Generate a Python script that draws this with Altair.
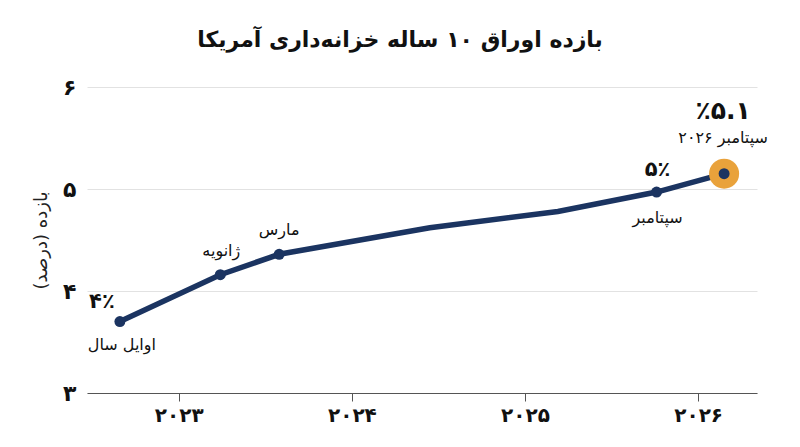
import altair as alt
import pandas as pd

# data
years = [2022.66, 2023.24, 2023.58, 2024.45, 2025.19, 2025.76, 2026.15]
yields = [3.70, 4.16, 4.36, 4.62, 4.78, 4.97, 5.15]
marker_idx = [0, 1, 2, 5]
final_idx = 6

x_ticks = [2023, 2024, 2025, 2026]
x_tick_labels = ["۲۰۲۳", "۲۰۲۴", "۲۰۲۵", "۲۰۲۶"]
y_ticks = [3, 4, 5, 6]
y_tick_labels = ["۳", "۴", "۵", "۶"]

title_text = "بازده اوراق ۱۰ ساله خزانه‌داری آمریکا"
y_title = "بازده (درصد)"

FONT = "DejaVu Sans"
NAVY = "#1b3461"
ORANGE = "#e9a23b"

df = pd.DataFrame({"x": years, "y": yields})

x_expr = "[" + ",".join("'%s'" % s for s in x_tick_labels) + "][datum.value-%d]" % x_ticks[0]
y_expr = "[" + ",".join("'%s'" % s for s in y_tick_labels) + "][datum.value-%d]" % y_ticks[0]

xs = alt.X("x:Q", scale=alt.Scale(domain=[2022.47, 2026.34], nice=False, zero=False),
           axis=alt.Axis(values=x_ticks, labelExpr=x_expr, grid=False, title=None,
                         domainColor="#555555", tickColor="#555555", tickSize=8,
                         labelFont=FONT, labelFontSize=20, labelFontWeight="bold",
                         labelColor="#111111", labelPadding=4))
ys = alt.Y("y:Q", scale=alt.Scale(domain=[3, 6], nice=False, zero=False),
           axis=alt.Axis(values=y_ticks, labelExpr=y_expr, grid=True, gridColor="#e2e2e2",
                         domain=False, ticks=False, title=y_title, titleFont=FONT,
                         titleFontSize=18, titleFontWeight="normal", titleColor="#222222",
                         titlePadding=12, labelFont=FONT, labelFontSize=22,
                         labelFontWeight="bold", labelColor="#111111", labelPadding=11))

base = alt.Chart(df)
line = base.mark_line(color=NAVY, strokeWidth=5.5).encode(x=xs, y=ys)
big = alt.Chart(df.iloc[[final_idx]]).mark_circle(color=ORANGE, opacity=1, size=900).encode(x="x:Q", y="y:Q")
dots = alt.Chart(df.iloc[marker_idx + [final_idx]]).mark_circle(color=NAVY, opacity=1, size=120).encode(x="x:Q", y="y:Q")


def label(idx, text, dx, dy, size, weight):
    d = pd.DataFrame({"x": [years[idx]], "y": [yields[idx]], "t": [text]})
    return alt.Chart(d).mark_text(dx=dx, dy=dy, fontSize=size, fontWeight=weight, font=FONT,
                                  color="#111111", align="center", baseline="middle").encode(
        x="x:Q", y="y:Q", text="t:N")


labels = [
    label(0, "۴٪", -18, -20, 21, "bold"),
    label(0, "اوایل سال", 2, 23, 16, "normal"),
    label(1, "ژانویه", 1, -24, 16, "normal"),
    label(2, "مارس", 0, -24, 16, "normal"),
    label(5, "۵٪", 1, -22, 21, "bold"),
    label(5, "سپتامبر", 1, 26, 16, "normal"),
    label(6, "٪۵.۱", -1, -63, 25, "bold"),
    label(6, "سپتامبر ۲۰۲۶", -1, -36, 16, "normal"),
]

chart = alt.layer(line, big, dots, *labels).properties(
    width=670, height=306,
    title=alt.TitleParams(title_text, font=FONT, fontSize=22, fontWeight="bold",
                          color="#111111", anchor="middle", frame="group", dx=-22, offset=24),
    autosize=alt.AutoSizeParams(type="none"),
    padding={"left": 79, "top": 79, "right": 30, "bottom": 40},
).configure_view(stroke=None)

chart.save("out.html", embed_options={"renderer": "svg", "actions": False})
